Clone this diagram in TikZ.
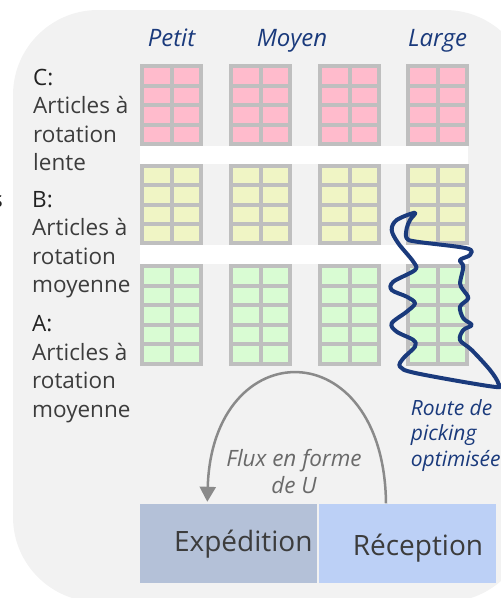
\documentclass[tikz,border=0pt]{standalone}
\usepackage{fontspec}
\setmainfont{Open Sans}
\usetikzlibrary{calc,arrows.meta}
\definecolor{bgc}{HTML}{F2F2F2}
\definecolor{framec}{HTML}{BFBFBF}
\definecolor{pinkc}{HTML}{FFBBCC}
\definecolor{yellowc}{HTML}{F0F5C5}
\definecolor{greenc}{HTML}{D9FCD3}
\definecolor{expc}{HTML}{B4C1D8}
\definecolor{recc}{HTML}{BCD0F6}
\definecolor{navyc}{HTML}{1A3A7C}
\definecolor{textc}{HTML}{3C3C3C}
\definecolor{darkc}{HTML}{222222}
\definecolor{arcc}{HTML}{8A8A8A}
\definecolor{fluxc}{HTML}{6A6A6A}
\newcommand\shelfsec[5]{%
  \fill[framec] (#1,#2) rectangle ++(63,#3);
  \pgfmathsetmacro\cellh{(#3-4*(#4+1))/#4}
  \foreach \ii in {1,...,#4}{
    \foreach \jj in {0,1}{
      \fill[#5] ({#1+4+\jj*29.5},{#2+4+(\ii-1)*(\cellh+4)}) rectangle ++(25.5,\cellh);
    }
  }
}
\begin{document}
\begin{tikzpicture}[x=1pt,y=-1pt,
  hdr/.style={font=\fontsize{24}{28}\selectfont\itshape, text=navyc, inner sep=0pt},
  lbl/.style={font=\fontsize{22.5}{28.5}\selectfont, text=textc, inner sep=0pt},
  routetxt/.style={font=\fontsize{21}{25.5}\selectfont\itshape, text=navyc, inner sep=0pt},
  fluxtxt/.style={font=\fontsize{22.5}{27}\selectfont\itshape, text=fluxc, inner sep=0pt},
  boxtxt/.style={font=\fontsize{28}{32}\selectfont, text=textc, inner sep=0pt},
  dock/.style={draw=none, inner sep=0pt, minimum height=79.4pt, anchor=north west},
  fluxarc/.style={draw=arcc, line width=2.5pt, -{Triangle[length=15pt,width=16pt]}},
  route/.style={draw=navyc, line width=4pt, line join=round}
]
\useasboundingbox (0,0) rectangle (501,598);
\clip (0,0) rectangle (501,598);
\fill[bgc, rounded corners=85pt] (13,10) rectangle (530,602);

% shelves
\foreach \xx in {140,229,318,406}{
  \shelfsec{\xx}{64}{82}{4}{pinkc}
  \shelfsec{\xx}{164}{81}{4}{yellowc}
  \shelfsec{\xx}{264}{102}{5}{greenc}
}
\fill[white] (140,146) rectangle (468,164);
\fill[white] (140,245) rectangle (468,264);

% headers
\node[hdr, anchor=base] (petit) at (171.5,46.7) {Petit};
\node[hdr, anchor=base] (moyen) at (292,46.7) {Moyen};
\node[hdr, anchor=base] (large) at (437.5,46.7) {Large};

% left labels
\node[lbl, anchor=base west] (labC) at (33,85) {\vtop{\baselineskip=28.5pt\hbox{\color{darkc}C:}\hbox{Articles à}\hbox{rotation}\hbox{lente}}};
\node[lbl, anchor=base west] (labB) at (32,207) {\vtop{\baselineskip=28.5pt\hbox{\color{darkc}B:}\hbox{Articles à}\hbox{rotation}\hbox{moyenne}}};
\node[lbl, anchor=base west] (labA) at (32,331.7) {\vtop{\baselineskip=28.5pt\hbox{\color{darkc}A:}\hbox{Articles à}\hbox{rotation}\hbox{moyenne}}};
\node[lbl, anchor=base east, text=darkc] (frag) at (3,207) {s};

% docks
\node[dock, fill=expc, minimum width=176.7pt] (exp) at (140,503.3) {};
\node[dock, fill=recc, minimum width=177pt] (rec) at (319,503.3) {};
\node[boxtxt, anchor=base] (exptxt) at (243.3,551.7) {Expédition};
\node[boxtxt, anchor=base] (rectxt) at (418,555) {Réception};

% U flow
\draw[fluxarc] ([xshift=67pt]rec.north west) .. controls +(-2,-173) and +(5,-170) .. ([xshift=67.3pt,yshift=1.5pt]exp.north west);
\node[fluxtxt, anchor=base] (fluxlbl) at (294,466) {\vtop{\baselineskip=27pt\hbox to 160pt{\hfil Flux en forme\hfil}\hbox to 160pt{\hfil de U\hfil}}};

% picking route
\draw[route] plot[smooth cycle, tension=0.55] coordinates {
 (415,212.7) (396.7,220) (391.7,230) (398.3,243.3) (413.3,261.7) (415,270)
 (393.3,281.7) (391.7,290) (406.7,296.7) (415,303.3) (406.7,311.7) (391.7,323.3)
 (396.7,331.7) (413.3,340) (415,346.7) (403.3,358.3) (400,366.7) (416.7,373.3)
 (493.3,386.7) (498.3,383.3) (490,370) (471.7,350) (460,340) (463.3,330)
 (471.7,325) (463.3,318.3) (460,306.7) (468.3,298.3) (463.3,290) (460,283.3)
 (463.3,266.7) (460,260) (470,255) (466.7,248.3) (416.7,241.7) (406.7,238.3)
 (406.7,228.3) (410,220)};
\node[routetxt, anchor=base west] (routelbl) at (410.7,415) {\vtop{\baselineskip=25.5pt\hbox{Route de}\hbox{picking}\hbox{optimisée}}};
\end{tikzpicture}
\end{document}
